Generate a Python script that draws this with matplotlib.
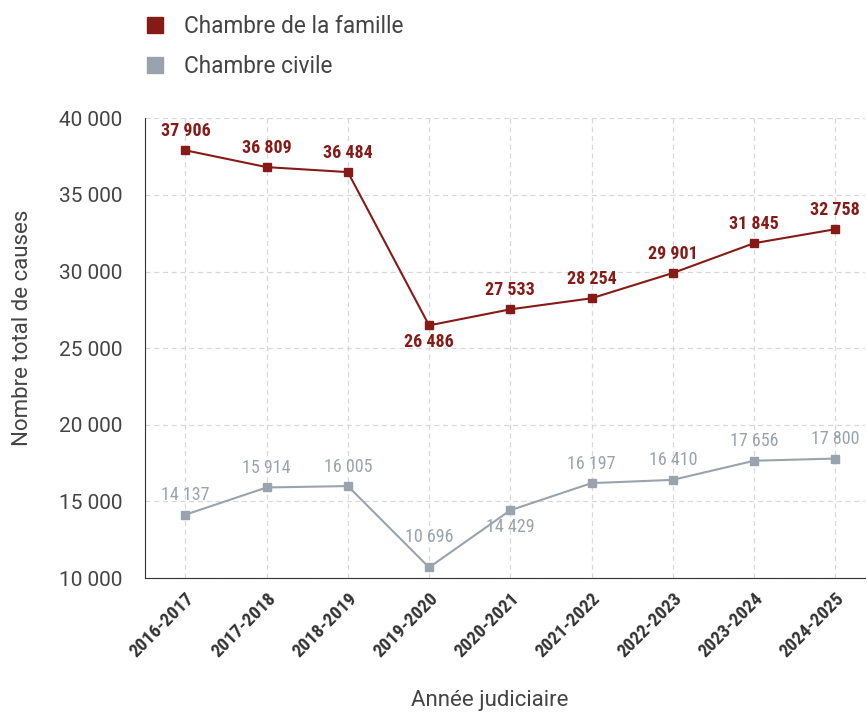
import matplotlib.pyplot as plt
from matplotlib.ticker import FuncFormatter

annees = ["2016-2017", "2017-2018", "2018-2019", "2019-2020", "2020-2021",
          "2021-2022", "2022-2023", "2023-2024", "2024-2025"]
famille = [37906, 36809, 36484, 26486, 27533, 28254, 29901, 31845, 32758]
civile = [14137, 15914, 16005, 10696, 14429, 16197, 16410, 17656, 17800]

# label above (1) or below (-1) the point
pos_famille = [1, 1, 1, -1, 1, 1, 1, 1, 1]
pos_civile = [1, 1, 1, 1, -1, 1, 1, 1, 1]

rouge = "#861a17"
gris = "#99a3ad"
texte = "#333333"
narrow = ["Roboto Condensed", "Roboto", "DejaVu Sans"]

plt.rcParams["font.family"] = ["Roboto", "DejaVu Sans"]

fig = plt.figure(figsize=(8.67, 7.12), dpi=100)
ax = fig.add_axes([0.167, 0.188, 0.831, 0.646])

x = list(range(len(annees)))
ax.plot(x, famille, color=rouge, lw=1.5, marker="s", ms=6, label="Chambre de la famille")
ax.plot(x, civile, color=gris, lw=1.5, marker="s", ms=6, label="Chambre civile")

def fmt(v):
    return f"{v:,}".replace(",", " ")

for xi, v, p in zip(x, famille, pos_famille):
    ax.annotate(fmt(v), (xi, v), xytext=(0, 14 * p if p > 0 else -12), textcoords="offset points",
                ha="center", va="center", color=rouge, fontsize=13,
                fontweight="bold", family=narrow)
for xi, v, p in zip(x, civile, pos_civile):
    off = 14 if p > 0 else -12
    if xi == 3:
        off = 22
    ax.annotate(fmt(v), (xi, v), xytext=(0, off), textcoords="offset points",
                ha="center", va="center", color=gris, fontsize=13,
                family=narrow)

ax.set_ylim(10000, 40000)
ax.set_xlim(-0.5, 8.37)
ax.set_yticks(range(10000, 40001, 5000))
ax.yaxis.set_major_formatter(FuncFormatter(lambda v, _: fmt(int(v))))
ax.set_xticks(x)
ax.set_xticklabels(annees, rotation=45, ha="right", rotation_mode="anchor",
                   fontsize=13.5, fontweight="bold", family=narrow, color=texte)
ax.tick_params(axis="y", length=0, labelsize=15, labelcolor="#444444", pad=16)
ax.tick_params(axis="x", length=0, pad=8)

ax.grid(True, color="#d8d8d8", ls=(0, (4, 3)), lw=0.9)
ax.set_axisbelow(True)
for s in ["top", "right"]:
    ax.spines[s].set_visible(False)
ax.spines["left"].set_color("#333333")
ax.spines["bottom"].set_color("#333333")

fig.text(0.026, 0.54, "Nombre total de causes", rotation=90, fontsize=16,
         color="#444444", ha="center", va="center")
fig.text(0.565, 0.016, "Année judiciaire", fontsize=16, color="#444444",
         ha="center", va="center")

leg = fig.legend(loc="center left", bbox_to_anchor=(0.17, 0.935), frameon=False,
                 fontsize=16.3, handlelength=0.7, handletextpad=0.9, labelspacing=0.75,
                 markerscale=2.0, labelcolor="#444444", borderaxespad=0, borderpad=0)
for h in leg.legend_handles:
    h.set_linestyle("None")

fig.savefig("out.png", dpi=100)
